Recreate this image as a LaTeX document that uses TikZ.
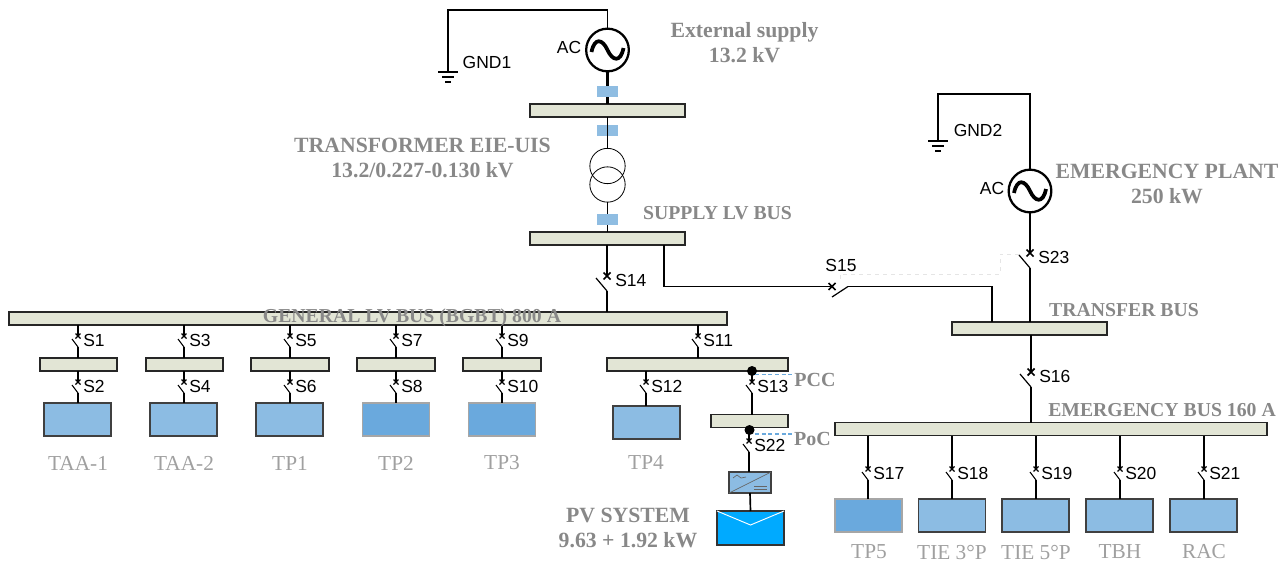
\documentclass[tikz,border=0pt]{standalone}
\usepackage{fontspec}
\setmainfont{Liberation Serif}
\setsansfont{Liberation Sans}
\usetikzlibrary{positioning}
\definecolor{busfill}{HTML}{E2E5D5}
\definecolor{loadblue}{HTML}{8CBCE3}
\definecolor{loaddeep}{HTML}{6AA9DD}
\definecolor{fuseblue}{HTML}{8FBDE2}
\definecolor{pvblue}{HTML}{00AAFF}
\definecolor{capdark}{HTML}{888888}
\definecolor{caplight}{HTML}{A0A0A0}
\tikzset{
  wire/.style={line width=1.25pt,black},
  bus/.style={draw=black!85,fill=busfill,line width=.9pt,inner sep=0pt,outer sep=0pt,minimum width=#1*0.75pt,minimum height=9.75pt},
  load/.style={draw=black!75,fill=loadblue,line width=.9pt,inner sep=0pt,outer sep=0pt,minimum width=50.25pt,minimum height=24.75pt},
  loadpale/.style={draw=black!35,fill=loaddeep,line width=.9pt,inner sep=0pt,outer sep=0pt,minimum width=50.25pt,minimum height=24.75pt},
  fusebox/.style={fill=fuseblue,inner sep=0pt,outer sep=0pt,minimum width=15.75pt,minimum height=8.25pt},
  source/.style={circle,draw=black,fill=white,line width=1.7pt,inner sep=0pt,outer sep=0pt,minimum size=32pt},
  winding/.style={circle,draw=black,line width=.6pt,inner sep=0pt,outer sep=0pt,minimum size=26.5pt},
  dot/.style={circle,fill=black,inner sep=0pt,outer sep=0pt,minimum size=7.5pt},
  swlab/.style={font=\sffamily\fontsize{13.1}{15}\selectfont,inner sep=0pt},
  capb/.style={font=\bfseries\fontsize{16.3}{18.75}\selectfont,text=capdark,inner sep=0pt},
  capm/.style={font=\bfseries\fontsize{14.8}{17}\selectfont,text=capdark,inner sep=0pt},
  capl/.style={font=\fontsize{16}{18}\selectfont,text=caplight,inner sep=0pt},
  pccline/.style={draw=loaddeep,line width=.9pt,densely dashed},
  pics/brks/.style={code={
    \coordinate (-t) at (0,0);
    \coordinate (-b) at (0,11);
    \draw[line width=1pt] (-2.5,-2.5) -- (2.5,2.5) (-2.5,2.5) -- (2.5,-2.5);
    \draw[line width=.8pt] (0,11) -- (-6,3);
    \node[swlab,anchor=west] at (5,4) {#1};
  }},
  pics/brkb/.style={code={
    \coordinate (-t) at (0,0);
    \coordinate (-b) at (0,15);
    \draw[line width=1.3pt] (-3.5,-3.5) -- (3.5,3.5) (-3.5,3.5) -- (3.5,-3.5);
    \draw[line width=.9pt] (0,15) -- (-11,2);
    \node[swlab,anchor=west] at (8,4.5) {#1};
  }},
  pics/sinewave/.style={code={
    \draw[line width=2.8pt] (-16,2) .. controls (-13,-13) and (-5,-11) .. (0,0) .. controls (5,11) and (13,13) .. (16,-2);
  }},
  pics/earth/.style={code={
    \draw[line width=1pt] (-10,0) -- (10,0);
    \draw[line width=1pt] (-6,5) -- (6,5);
    \draw[line width=1.3pt] (-3,10) -- (3,10);
  }}
}
\begin{document}
\begin{tikzpicture}[x=0.75pt,y=-0.75pt]
\useasboundingbox (0,0) rectangle (1287,561);
% buses
\node[bus=155] (hvbus) at (607.5,110.5) {};
\node[bus=155] (supbus) at (607.5,238.5) {};
\node[bus=718] (genbus) at (368,318.5) {};
\node[bus=155] (trabus) at (1029.5,328.5) {};
\node[bus=432] (embus) at (1051,429) {};
\node[bus=77] (bus1) at (78.5,364.5) {};
\node[bus=77] (bus2) at (184.5,364.5) {};
\node[bus=78] (bus3) at (290,364.5) {};
\node[bus=78] (bus4) at (396,364.5) {};
\node[bus=78] (bus5) at (502,364.5) {};
\node[bus=181] (bus6) at (697.5,364.5) {};
\node[bus=77] (bus7) at (749.5,421) {};
% loads
\node[load] (taa1) at (77.5,419.5) {};
\node[load] (taa2) at (183.5,419.5) {};
\node[load] (tp1) at (289.5,419.5) {};
\node[loadpale] (tp2) at (396,419.5) {};
\node[loadpale] (tp3) at (502,419.5) {};
\node[load] (tp4) at (646.5,422.5) {};
\node[loadpale] (tp5) at (868.5,515.5) {};
\node[load] (tie3) at (952,515.5) {};
\node[load] (tie5) at (1035.5,515.5) {};
\node[load] (tbh) at (1119.5,515.5) {};
\node[load] (rac) at (1203.5,515.5) {};
\node[draw=black!75,fill=loadblue,line width=.9pt,inner sep=0pt,outer sep=0pt,minimum width=31.5pt,minimum height=15.75pt] (inv) at (750,482.5) {};
\node[draw=black!80,fill=pvblue,line width=.9pt,inner sep=0pt,outer sep=0pt,minimum width=50.25pt,minimum height=25.5pt] (pv) at (750.5,528) {};
\draw[white,line width=.7pt] (pv.north west) -- (750.5,525) -- (pv.north east);
\draw[black!60,line width=.5pt] (inv.south west) -- (inv.north east);
\draw[black!60,line width=.5pt] (733,478) -- (737,475) -- (741,478) -- (746,477);
\draw[black!60,line width=.5pt] (754,486) -- (767,486) (754,489) -- (767,489);
% sources and transformer
\node[winding] (tr1) at (607.5,166) {};
\node[winding] (tr2) at (607.5,184.5) {};
\node[fusebox] (fu2) at (607.5,130.5) {};
% switches
\pic (s1) at (78,336) {brks=S1};
\pic (s2) at (78,382) {brks=S2};
\pic (s3) at (184,336) {brks=S3};
\pic (s4) at (184,382) {brks=S4};
\pic (s5) at (290,336) {brks=S5};
\pic (s6) at (290,382) {brks=S6};
\pic (s7) at (396,336) {brks=S7};
\pic (s8) at (396,382) {brks=S8};
\pic (s9) at (502,336) {brks=S9};
\pic (s10) at (502,382) {brks=S10};
\pic (s11) at (698,336) {brks=S11};
\pic (s12) at (646,382) {brks=S12};
\pic (s13) at (752,382) {brks=S13};
\pic (s22) at (749,441) {brks=S22};
\pic (s17) at (868,469) {brks=S17};
\pic (s18) at (952,469) {brks=S18};
\pic (s19) at (1036,469) {brks=S19};
\pic (s20) at (1120,469) {brks=S20};
\pic (s21) at (1204,469) {brks=S21};
\pic (s14) at (607,276) {brkb=S14};
\pic (s16) at (1031,372) {brkb=S16};
\pic (s23) at (1030,253) {brkb=S23};
% S15 lies on its side
\coordinate (s15l) at (832,286.5);
\coordinate (s15r) at (848,286.5);
\draw[line width=1.3pt] (828.5,283) -- (835.5,290) (828.5,290) -- (835.5,283);
\draw[line width=.9pt] (832,297) -- (s15r);
\node[swlab] (s15lab) at (841,265) {S15};
% wiring
\coordinate (gnd1) at (448,72);
\coordinate (gnd2) at (938,141);
\pic at (gnd1) {earth};
\pic at (gnd2) {earth};
\node[source] (gen1) at (607.5,50) {};
\node[source] (gen2) at (1030,191) {};
\pic at (gen1) {sinewave};
\pic at (gen2) {sinewave};
\node[swlab] (ac1) at (569,47) {AC};
\node[swlab] (ac2) at (992,188) {AC};
\draw[wire] (gen1.north) -- (607.5,10) -| (gnd1);
\draw[wire] (gen2.north) -- (1030,94) -| (gnd2);
\draw[wire,line width=1.6pt] (gen1.south) -- (hvbus.north);
\draw[wire] (hvbus.south) -- (tr1.north);
\draw[wire] (tr2.south) -- (supbus.north);
\draw[wire] (supbus.south -| s14-t) -- (s14-t);
\draw[wire] (s14-b) -- (genbus.north -| s14-b);
\draw[wire] (supbus.south -| 664,0) |- (s15l);
\draw[wire] (s15r) -| (trabus.north -| 992,0);
\draw[wire] (gen2.south) -- (s23-t);
\draw[wire] (s23-b) -- (trabus.north -| s23-b);
\draw[wire] (trabus.south -| s16-t) -- (s16-t);
\draw[wire] (s16-b) -- (embus.north -| s16-b);
\draw[wire] (genbus.south -| s1-t) -- (s1-t);
\draw[wire] (s1-b) -- (bus1.north -| s1-b);
\draw[wire] (bus1.south -| s2-t) -- (s2-t);
\draw[wire] (s2-b) -- (taa1.north -| s2-b);
\draw[wire] (genbus.south -| s3-t) -- (s3-t);
\draw[wire] (s3-b) -- (bus2.north -| s3-b);
\draw[wire] (bus2.south -| s4-t) -- (s4-t);
\draw[wire] (s4-b) -- (taa2.north -| s4-b);
\draw[wire] (genbus.south -| s5-t) -- (s5-t);
\draw[wire] (s5-b) -- (bus3.north -| s5-b);
\draw[wire] (bus3.south -| s6-t) -- (s6-t);
\draw[wire] (s6-b) -- (tp1.north -| s6-b);
\draw[wire] (genbus.south -| s7-t) -- (s7-t);
\draw[wire] (s7-b) -- (bus4.north -| s7-b);
\draw[wire] (bus4.south -| s8-t) -- (s8-t);
\draw[wire] (s8-b) -- (tp2.north -| s8-b);
\draw[wire] (genbus.south -| s9-t) -- (s9-t);
\draw[wire] (s9-b) -- (bus5.north -| s9-b);
\draw[wire] (bus5.south -| s10-t) -- (s10-t);
\draw[wire] (s10-b) -- (tp3.north -| s10-b);
\draw[wire] (genbus.south -| s11-t) -- (s11-t);
\draw[wire] (s11-b) -- (bus6.north -| s11-b);
\draw[wire] (bus6.south -| s12-t) -- (s12-t);
\draw[wire] (s12-b) -- (tp4.north -| s12-b);
\draw[wire] (bus6.south -| s13-t) -- (s13-t);
\draw[wire] (s13-b) -- (bus7.north -| s13-b);
\draw[wire] (bus7.south -| s22-t) -- (s22-t);
\draw[wire] (s22-b) -- (inv.north -| s22-b);
\draw[wire] (inv.south) -- (pv.north);
\draw[wire] (embus.south -| s17-t) -- (s17-t);
\draw[wire] (s17-b) -- (tp5.north -| s17-b);
\draw[wire] (embus.south -| s18-t) -- (s18-t);
\draw[wire] (s18-b) -- (tie3.north -| s18-b);
\draw[wire] (embus.south -| s19-t) -- (s19-t);
\draw[wire] (s19-b) -- (tie5.north -| s19-b);
\draw[wire] (embus.south -| s20-t) -- (s20-t);
\draw[wire] (s20-b) -- (tbh.north -| s20-b);
\draw[wire] (embus.south -| s21-t) -- (s21-t);
\draw[wire] (s21-b) -- (rac.north -| s21-b);
% these two sit on top of their wires
\node[fusebox] (fu1) at (607.5,91.5) {};
\node[fusebox] (fu3) at (607.5,219.5) {};
% faint link between S15 and S23
\draw[black!10,line width=.5pt,dashed] (1019,254) -- (1000,254) -- (1000,274) -- (840,274) -- (840,280);
% measuring points
\node[dot] (pcc) at (752,371) {};
\node[dot] (poc) at (749.5,430) {};
\node[capm,font=\bfseries\fontsize{15}{17}\selectfont] (pcclab) at (815,379.5) {PCC};
\node[capm,font=\bfseries\fontsize{15}{17}\selectfont] (poclab) at (812.5,438.5) {PoC};
\draw[pccline] (755,374.5) -- (pcclab.west |- 0,374.5);
\draw[pccline] (755,434) -- (poclab.west |- 0,434);
% captions
\node[capb,align=center] (extsup) at (744.5,42.5) {External supply\\13.2 kV};
\node[capb,align=center] (trname) at (422.5,157.5) {TRANSFORMER EIE-UIS\\13.2/0.227-0.130 kV};
\node[capb,align=center] (empl) at (1167,183.5) {EMERGENCY PLANT\\250 kW};
\node[capb,align=center] (pvname) at (628,527.5) {PV SYSTEM\\9.63 + 1.92 kW};
\node[capm] (suplab) at (717.5,213.5) {SUPPLY LV BUS};
\node[capm] (genlab) at (412,318) {GENERAL LV BUS (BGBT) 800 A};
\node[capm] (tralab) at (1124,310.5) {TRANSFER BUS};
\node[capm] (emlab) at (1162,410.5) {EMERGENCY BUS 160 A};
\node[swlab] (gnd1lab) at (487,62) {GND1};
\node[swlab] (gnd2lab) at (978,130) {GND2};
\node[capl] (ltaa1) at (78,463) {TAA-1};
\node[capl] (ltaa2) at (184,463) {TAA-2};
\node[capl] (ltp1) at (290,463) {TP1};
\node[capl] (ltp2) at (396,463) {TP2};
\node[capl] (ltp3) at (502,463) {TP3};
\node[capl] (ltp4) at (646,462) {TP4};
\node[capl] (ltp5) at (869,552) {TP5};
\node[capl] (ltie3) at (952,552) {TIE 3°P};
\node[capl] (ltie5) at (1036,552) {TIE 5°P};
\node[capl] (ltbh) at (1120,552) {TBH};
\node[capl] (lrac) at (1204,552) {RAC};
\end{tikzpicture}
\end{document}
